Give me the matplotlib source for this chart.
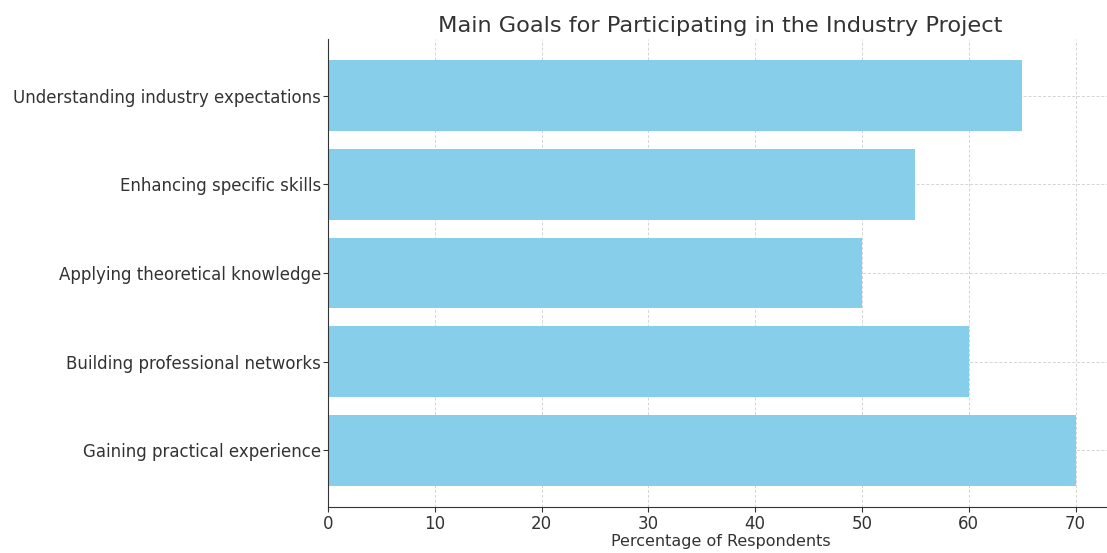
import matplotlib.pyplot as plt

# survey results, bottom bar first
goals = [
    "Gaining practical experience",
    "Building professional networks",
    "Applying theoretical knowledge",
    "Enhancing specific skills",
    "Understanding industry expectations",
]
percentages = [70, 60, 50, 55, 65]

plt.rcParams['text.color'] = '#333333'
plt.rcParams['axes.labelcolor'] = '#333333'
plt.rcParams['xtick.color'] = '#333333'
plt.rcParams['ytick.color'] = '#333333'

fig = plt.figure(figsize=(11.07, 5.53), dpi=100)
ax = fig.add_axes([328 / 1107, 1 - 507 / 553, (1113 - 328) / 1107, (507 - 39) / 553])

ax.barh(goals, percentages, color='skyblue', zorder=2)
ax.set_xlim(0, 73.5)
ax.grid(True, linestyle=(0, (3, 2)), color='#d4d4d4', linewidth=0.7, zorder=0)
ax.spines['top'].set_visible(False)
ax.spines['right'].set_visible(False)
ax.spines['left'].set_color('#333333')
ax.spines['bottom'].set_color('#333333')
ax.tick_params(labelsize=12)
ax.tick_params(axis='y', pad=1.5)
ax.tick_params(axis='x', pad=2)

ax.set_xlabel('Percentage of Respondents', fontsize=11.5, labelpad=1)
ax.set_title('Main Goals for Participating in the Industry Project', fontsize=16.2, pad=5)

fig.savefig('out.png', dpi=100)
